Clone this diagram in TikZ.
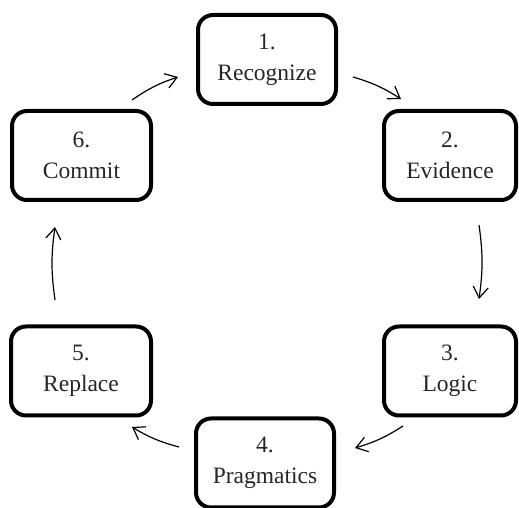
\documentclass[tikz,border=0pt]{standalone}
\usepackage{fontspec}
\setmainfont{Liberation Serif}
\usetikzlibrary{arrows.meta}
\begin{document}
\begin{tikzpicture}[x=1pt,y=1pt,
  stage/.style={draw=black, line width=4pt, rounded corners=15pt, align=center,
    minimum width=138pt, minimum height=89pt, inner sep=0pt,
    font=\fontsize{23.5}{31}\selectfont, text=black!85},
  flow/.style={line width=1.2pt, -{Straight Barb[length=11pt,width=15pt,line width=1.2pt]}, bend left=8}]
\useasboundingbox (0,0) rectangle (519,508);
\node[stage] (n1) at (267,448.5) {1.\\Recognize};
\node[stage, minimum width=132pt] (n2) at (450,352.5) {2.\\Evidence};
\node[stage, minimum width=132pt] (n3) at (450,137) {3.\\Logic};
\node[stage] (n4) at (265,45) {4.\\Pragmatics};
\node[stage, minimum width=140pt] (n5) at (81,137) {5.\\Replace};
\node[stage, minimum width=139pt] (n6) at (81.5,352.5) {6.\\Commit};
\coordinate (a12s) at (353,431); \coordinate (a12e) at (401,409);
\coordinate (a23s) at (479,283); \coordinate (a23e) at (479,209);
\coordinate (a34s) at (403,82);  \coordinate (a34e) at (355,60);
\coordinate (a45s) at (179,61);  \coordinate (a45e) at (132,81);
\coordinate (a56s) at (55,208);  \coordinate (a56e) at (55,281);
\coordinate (a61s) at (132,408); \coordinate (a61e) at (178,431);
\draw[flow] (a12s) to (a12e);
\draw[flow] (a23s) to (a23e);
\draw[flow] (a34s) to (a34e);
\draw[flow] (a45s) to (a45e);
\draw[flow] (a56s) to (a56e);
\draw[flow] (a61s) to (a61e);
\end{tikzpicture}
\end{document}
